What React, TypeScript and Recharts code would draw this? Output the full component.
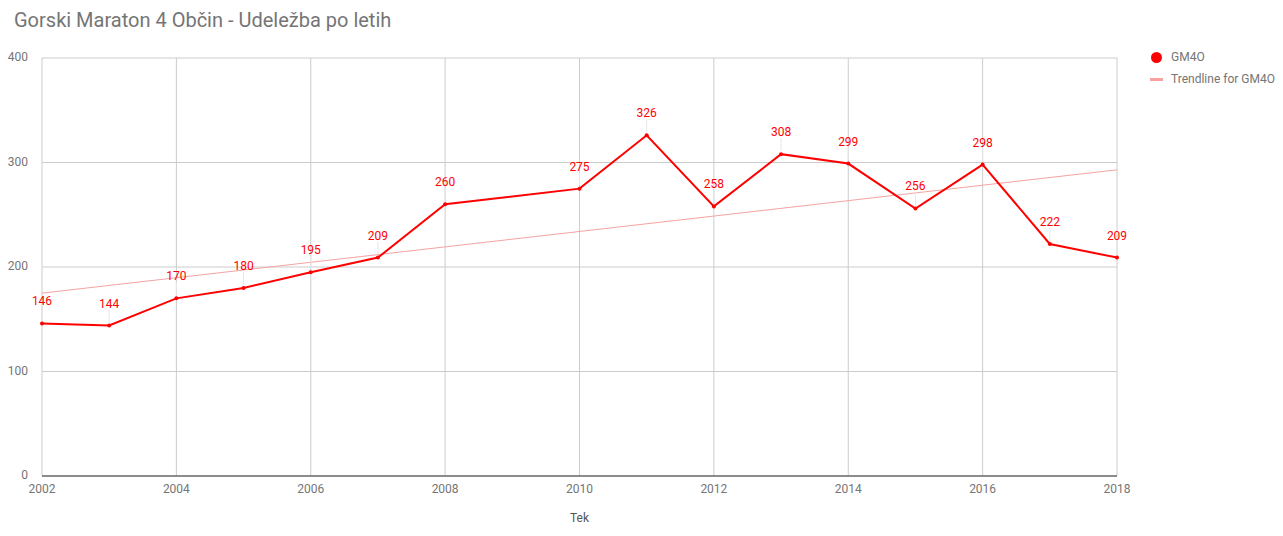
import React from "react";
import {
  LineChart,
  Line,
  XAxis,
  YAxis,
  CartesianGrid,
  LabelList,
} from "recharts";

const years = [2002, 2003, 2004, 2005, 2006, 2007, 2008, 2010, 2011, 2012, 2013, 2014, 2015, 2016, 2017, 2018];
const participants = [146, 144, 170, 180, 195, 209, 260, 275, 326, 258, 308, 299, 256, 298, 222, 209];
// trendline end points
const trendYears = [2002, 2018];
const trendValues = [175, 293];
const xTicks = [2002, 2004, 2006, 2008, 2010, 2012, 2014, 2016, 2018];
const yTicks = [0, 100, 200, 300, 400];

const data = years.map((y, i) => {
  const t = trendYears.indexOf(y);
  return { year: y, gm: participants[i], trend: t >= 0 ? trendValues[t] : null };
});

const font = "Roboto, Arial, sans-serif";

const PointLabel = (props: any) => {
  const { x, y, value } = props;
  return (
    <g>
      <line x1={x} x2={x} y1={y - 3} y2={y - 16} stroke="#e6e6e6" strokeWidth={1} />
      <text x={x} y={y - 18} textAnchor="middle" fill="#ff0000" fontSize={12} fontFamily={font}>
        {value}
      </text>
    </g>
  );
};

const LegendBox = () => (
  <div style={{ position: "absolute", left: 1148, top: 48, fontFamily: font, fontSize: 12, color: "#757575" }}>
    <div style={{ display: "flex", alignItems: "center", height: 18 }}>
      <span style={{ width: 11, height: 11, borderRadius: "50%", background: "#ff0000", marginLeft: 3, marginRight: 9 }} />
      GM4O
    </div>
    <div style={{ display: "flex", alignItems: "center", height: 18, marginTop: 4 }}>
      <span style={{ width: 13, height: 3, background: "#f7a1a1", marginLeft: 2, marginRight: 8 }} />
      Trendline for GM4O
    </div>
  </div>
);

export default function App() {
  return (
    <div style={{ position: "absolute", left: 0, top: 0, width: 1283, height: 536, background: "#fff" }}>
      <div style={{ position: "absolute", left: 14, top: 8, fontFamily: font, fontSize: 20, color: "#757575" }}>
        Gorski Maraton 4 Občin - Udeležba po letih
      </div>
      <LineChart
        width={1283}
        height={536}
        data={data}
        margin={{ top: 58, right: 166, left: 0, bottom: 0 }}
      >
        <CartesianGrid stroke="#cccccc" />
        <XAxis
          dataKey="year"
          type="number"
          domain={[2002, 2018]}
          ticks={xTicks}
          interval={0}
          height={60}
          tickLine={false}
          axisLine={{ stroke: "#333333" }}
          tick={{ fill: "#757575", fontSize: 12, fontFamily: font }}
          tickMargin={2}
          label={{ value: "Tek", position: "insideBottom", offset: 14, fill: "#555555", fontSize: 12, fontFamily: font }}
        />
        <YAxis
          type="number"
          domain={[0, 400]}
          ticks={yTicks}
          width={42}
          axisLine={false}
          tickLine={false}
          tickMargin={8}
          tick={{ fill: "#757575", fontSize: 12, fontFamily: font, dy: -1 }}
        />
        <Line
          dataKey="trend"
          stroke="#f4a3a3"
          strokeWidth={1}
          dot={false}
          connectNulls
          isAnimationActive={false}
        />
        <Line
          dataKey="gm"
          stroke="#ff0000"
          strokeWidth={2}
          dot={{ r: 2, fill: "#ff0000", stroke: "#ff0000", strokeWidth: 0 }}
          isAnimationActive={false}
        >
          <LabelList dataKey="gm" content={<PointLabel />} />
        </Line>
      </LineChart>
      <LegendBox />
    </div>
  );
}
